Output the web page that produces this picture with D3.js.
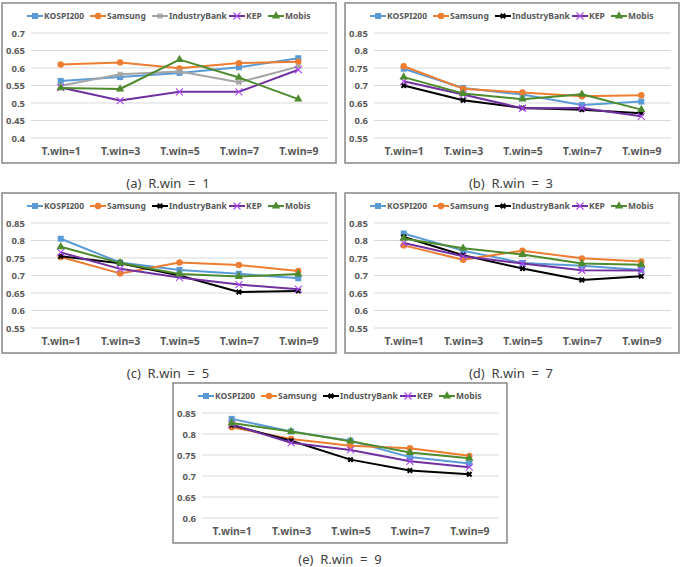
<!DOCTYPE html>
<html>
<head>
<meta charset="utf-8">
<script src="https://cdn.jsdelivr.net/npm/d3@7"></script>
<style>
  body { margin: 0; background: #fff; }
  svg { display: block; font-family: "Noto Sans", "DejaVu Sans", sans-serif; }
</style>
</head>
<body>
<svg id="chart" width="682" height="567"></svg>
<script>
// categories on the x axis
const categories = ["T.win=1", "T.win=3", "T.win=5", "T.win=7", "T.win=9"];
const seriesNames = ["KOSPI200", "Samsung", "IndustryBank", "KEP", "Mobis"];
const captions = ["(a)  R.win  =  1", "(b)  R.win  =  3", "(c)  R.win  =  5", "(d)  R.win  =  7", "(e)  R.win  =  9"];

// one row per panel (R.win = 1, 3, 5, 7, 9)
const kospi200 = [
  [0.563, 0.574, 0.586, 0.602, 0.628],
  [0.748, 0.693, 0.674, 0.644, 0.654],
  [0.805, 0.737, 0.716, 0.705, 0.692],
  [0.820, 0.771, 0.736, 0.728, 0.716],
  [0.836, 0.806, 0.784, 0.745, 0.730]
];
const samsung = [
  [0.610, 0.616, 0.599, 0.614, 0.618],
  [0.755, 0.691, 0.680, 0.669, 0.672],
  [0.753, 0.706, 0.737, 0.730, 0.713],
  [0.786, 0.745, 0.771, 0.749, 0.740],
  [0.816, 0.788, 0.772, 0.766, 0.748]
];
const industryBank = [
  [0.549, 0.582, 0.590, 0.559, 0.604],
  [0.700, 0.658, 0.636, 0.631, 0.621],
  [0.755, 0.735, 0.700, 0.653, 0.656],
  [0.810, 0.758, 0.720, 0.687, 0.698],
  [0.821, 0.784, 0.739, 0.713, 0.704]
];
const kep = [
  [0.544, 0.507, 0.532, 0.532, 0.595],
  [0.712, 0.674, 0.635, 0.636, 0.612],
  [0.766, 0.719, 0.694, 0.674, 0.661],
  [0.793, 0.755, 0.734, 0.715, 0.714],
  [0.823, 0.779, 0.762, 0.735, 0.721]
];
const mobis = [
  [0.543, 0.540, 0.624, 0.573, 0.511],
  [0.724, 0.677, 0.661, 0.675, 0.631],
  [0.782, 0.736, 0.704, 0.697, 0.704],
  [0.806, 0.778, 0.760, 0.734, 0.731],
  [0.826, 0.806, 0.783, 0.756, 0.742]
];

// y axis ranges and ticks per panel
const yDomains = [[0.4, 0.7], [0.55, 0.85], [0.55, 0.85], [0.55, 0.85], [0.6, 0.85]];
const yTicks = [
  [0.4, 0.45, 0.5, 0.55, 0.6, 0.65, 0.7],
  [0.55, 0.6, 0.65, 0.7, 0.75, 0.8, 0.85],
  [0.55, 0.6, 0.65, 0.7, 0.75, 0.8, 0.85],
  [0.55, 0.6, 0.65, 0.7, 0.75, 0.8, 0.85],
  [0.6, 0.65, 0.7, 0.75, 0.8, 0.85]
];

const allSeries = [kospi200, samsung, industryBank, kep, mobis];

// panel boxes (outer border) and caption centres
const panels = [
  { x: 2, y: 3, cap: [168, 183] },
  { x: 345, y: 3, cap: [511, 183] },
  { x: 2, y: 193, cap: [168, 373] },
  { x: 345, y: 193, cap: [511, 373] },
  { x: 173, y: 383, cap: [340, 559] }
];
const PW = 334, PH = 160;
const plotL = 29, plotR = 326, plotT = 30, plotB = 135;

const baseColors = ["#5b9bd5", "#ed7d31", "#000000", "#7030a0", "#4e8b2f"];

const svg = d3.select("#chart");

function drawMarker(g, i, x, y, color) {
  if (i === 0) {
    g.append("rect").attr("x", x - 3).attr("y", y - 3).attr("width", 6).attr("height", 6).attr("fill", color);
  } else if (i === 1) {
    g.append("circle").attr("cx", x).attr("cy", y).attr("r", 3.2).attr("fill", color);
  } else if (i === 2) {
    g.append("path").attr("d", d3.symbol(d3.symbolCross, 22)())
      .attr("transform", `translate(${x},${y}) rotate(45)`).attr("fill", color);
  } else if (i === 3) {
    g.append("path").attr("d", `M${x - 3.5},${y - 3.5}L${x + 3.5},${y + 3.5}M${x - 3.5},${y + 3.5}L${x + 3.5},${y - 3.5}`)
      .attr("stroke", d3.color(color).brighter(1.2)).attr("stroke-width", 1.1);
  } else {
    g.append("path").attr("d", d3.symbol(d3.symbolTriangle, 30)())
      .attr("transform", `translate(${x},${y})`).attr("fill", color);
  }
}

panels.forEach((p, k) => {
  const g = svg.append("g").attr("transform", `translate(${p.x},${p.y})`);

  g.append("rect").attr("x", 0).attr("y", 0).attr("width", PW).attr("height", PH)
    .attr("fill", "#fff").attr("stroke", "#868686").attr("stroke-width", 1.5);

  const x = d3.scalePoint().domain(categories).range([plotL, plotR]).padding(0.5);
  const y = d3.scaleLinear().domain(yDomains[k]).range([plotB, plotT]);

  // gridlines
  g.append("g").selectAll("line").data(yTicks[k]).join("line")
    .attr("x1", plotL).attr("x2", plotR)
    .attr("y1", d => y(d)).attr("y2", d => y(d))
    .attr("stroke", "#d9d9d9").attr("stroke-width", 1);

  // y axis labels
  const yAxis = g.append("g").attr("transform", `translate(${plotL},0)`)
    .call(d3.axisLeft(y).tickValues(yTicks[k]).tickFormat(d => String(+d.toFixed(2))).tickSize(0).tickPadding(6));
  yAxis.select(".domain").remove();
  yAxis.selectAll("text").attr("font-size", 9.5).attr("font-weight", "bold").attr("fill", "#595959")
    .attr("font-family", "'Noto Sans', sans-serif");

  // x axis labels
  const xAxis = g.append("g").attr("transform", `translate(0,${plotB})`)
    .call(d3.axisBottom(x).tickSize(0).tickPadding(10));
  xAxis.select(".domain").remove();
  xAxis.selectAll("text").attr("font-size", 10.5).attr("font-weight", "bold").attr("fill", "#595959")
    .attr("font-family", "'Noto Sans', sans-serif");

  const colors = baseColors.slice();
  if (k === 0) colors[2] = "#a5a5a5";

  // lines and markers
  allSeries.forEach((s, i) => {
    const vals = s[k];
    const line = d3.line().x((d, j) => x(categories[j])).y(d => y(d));
    g.append("path").datum(vals).attr("d", line)
      .attr("fill", "none").attr("stroke", colors[i]).attr("stroke-width", 2).attr("stroke-linejoin", "round");
    const mg = g.append("g");
    vals.forEach((v, j) => drawMarker(mg, i, x(categories[j]), y(v), colors[i]));
  });

  // legend
  const legX = [25, 88, 150, 227, 266];
  const leg = g.append("g").attr("transform", "translate(0,13)");
  seriesNames.forEach((name, i) => {
    const lg = leg.append("g").attr("transform", `translate(${legX[i]},0)`);
    lg.append("line").attr("x1", 0).attr("x2", 16).attr("y1", 0).attr("y2", 0)
      .attr("stroke", colors[i]).attr("stroke-width", 2);
    drawMarker(lg, i, 8, 0, colors[i]);
    lg.append("text").attr("x", 17).attr("y", 3.3).text(name)
      .attr("font-size", 8.5).attr("font-weight", "bold").attr("fill", "#595959");
  });

  // caption
  svg.append("text").attr("x", p.cap[0]).attr("y", p.cap[1] + 5).attr("text-anchor", "middle")
    .attr("font-size", 13).attr("fill", "#404040").attr("xml:space", "preserve")
    .style("white-space", "pre").text(captions[k]);
});
</script>
</body>
</html>
